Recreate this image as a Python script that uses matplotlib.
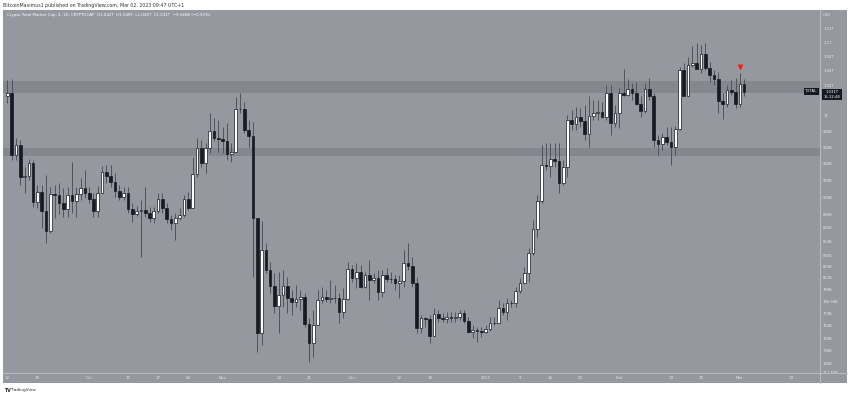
import matplotlib
matplotlib.use("Agg")
import matplotlib.pyplot as plt
import matplotlib.dates as mdates
from matplotlib.patches import Rectangle
from matplotlib.ticker import FixedLocator, FixedFormatter, NullLocator
import numpy as np
import pandas as pd

# daily candles, Crypto Total Market Cap in billions USD
start_date = "2022-09-12"
first_open = 1025.8
closes = [
    1029.4, 950.5, 962.8, 924.1, 925.0, 940.3, 894.6, 906.3, 884.3, 861.7,
    903.6, 902.0, 893.5, 885.9, 902.5, 895.4, 903.3, 910.3, 905.1, 897.4,
    884.3, 905.1, 930.1, 924.9, 918.1, 907.5, 900.5, 904.4, 886.3, 880.5,
    884.3, 885.1, 882.0, 875.6, 884.3, 897.4, 887.2, 874.5, 870.0, 875.6,
    879.4, 897.4, 887.2, 927.3, 958.7, 940.3, 958.7, 980.7, 971.1, 970.6,
    967.8, 951.3, 954.5, 1008.3, 1008.8, 981.6, 974.0, 875.6, 754.7, 840.5,
    819.0, 802.3, 781.7, 792.9, 802.3, 789.5, 786.1, 789.1, 790.5, 763.7,
    744.9, 762.7, 787.8, 790.6, 788.8, 790.0, 789.5, 776.0, 788.5, 819.7,
    810.3, 817.2, 801.6, 813.7, 808.5, 810.3, 795.7, 813.7, 809.6, 809.8,
    805.0, 807.5, 826.8, 823.6, 805.0, 759.5, 769.4, 768.6, 752.3, 773.4,
    769.4, 769.2, 770.4, 770.2, 771.0, 774.4, 767.0, 756.1, 757.8, 757.1,
    756.1, 758.5, 765.0, 765.2, 779.4, 776.0, 784.5, 784.7, 797.4, 805.7,
    815.5, 837.6, 863.3, 895.8, 938.2, 936.5, 945.2, 943.1, 916.9, 935.3,
    994.4, 988.9, 998.6, 993.1, 976.5, 999.5, 1003.1, 1005.2, 998.6, 1030.2,
    991.0, 1003.9, 1030.2, 1026.8, 1034.7, 1029.8, 1015.3, 1006.5, 1034.7, 1025.2,
    969.0, 964.0, 973.1, 966.9, 959.9, 982.5, 1060.9, 1026.1, 1067.6, 1070.0,
    1062.7, 1083.0, 1064.1, 1054.1, 1048.1, 1019.6, 1015.3, 1033.8, 1030.7, 1015.3,
    1042.0, 1031.0,
]
highs = [
    1047.2, 1048.1, 971.1, 969.0, 936.1, 945.2, 944.3, 914.2, 914.2, 926.1,
    912.2, 914.2, 916.2, 910.3, 912.2, 942.2, 912.2, 922.1, 932.1, 912.2,
    905.1, 913.0, 936.9, 938.2, 938.2, 928.1, 914.2, 911.4, 912.2, 892.8,
    889.7, 896.6, 912.2, 888.9, 888.9, 904.4, 904.4, 892.8, 879.4, 881.3,
    887.2, 902.5, 906.3, 948.4, 971.1, 969.0, 964.9, 1003.1, 996.6, 994.4,
    985.8, 990.2, 964.9, 1024.5, 1029.4, 1018.3, 994.4, 992.2, 875.6, 872.2,
    847.8, 827.9, 815.5, 817.2, 819.0, 812.0, 798.1, 803.3, 798.1, 794.7,
    769.4, 777.7, 798.1, 801.6, 798.1, 808.5, 803.3, 794.7, 799.8, 827.9,
    824.4, 826.1, 824.4, 817.2, 829.7, 815.5, 819.0, 819.0, 820.8, 817.2,
    813.7, 813.7, 840.5, 847.8, 833.3, 811.9, 772.7, 771.0, 772.7, 779.4,
    777.7, 774.4, 776.0, 776.0, 776.0, 777.7, 777.7, 771.0, 762.7, 761.1,
    761.1, 762.7, 771.0, 771.0, 787.8, 784.5, 789.5, 787.8, 801.6, 810.3,
    822.5, 842.3, 873.7, 902.5, 962.8, 964.9, 964.9, 964.9, 964.9, 944.3,
    1001.0, 1007.4, 1011.7, 1010.0, 1014.0, 1025.2, 1020.5, 1020.5, 1018.3, 1040.8,
    1040.8, 1014.0, 1036.1, 1062.0, 1048.1, 1042.8, 1045.0, 1025.2, 1042.8, 1049.5,
    1029.4, 975.2, 977.4, 985.9, 985.9, 987.2, 1065.5, 1070.0, 1079.2, 1094.3,
    1098.2, 1095.7, 1098.2, 1072.2, 1060.9, 1058.6, 1029.4, 1040.8, 1047.2, 1049.5,
    1056.4, 1048.0,
]
lows = [
    1016.2, 944.3, 944.3, 914.2, 904.4, 920.1, 888.9, 887.2, 864.4, 847.8,
    858.8, 876.0, 880.5, 877.5, 877.5, 881.3, 877.5, 896.6, 898.6, 892.8,
    877.5, 877.5, 904.4, 916.9, 912.2, 900.5, 896.6, 896.6, 881.3, 871.8,
    878.3, 833.3, 877.5, 871.8, 870.6, 881.3, 881.3, 869.9, 862.5, 851.4,
    873.7, 877.5, 885.1, 887.2, 924.1, 936.1, 928.1, 952.5, 967.8, 954.5,
    952.5, 944.3, 942.2, 956.6, 1003.1, 977.4, 960.7, 811.9, 736.9, 743.3,
    815.5, 794.7, 774.4, 754.7, 781.0, 774.4, 772.7, 781.0, 777.7, 761.1,
    727.4, 732.0, 762.7, 784.5, 786.1, 784.5, 784.5, 764.4, 769.4, 787.8,
    806.7, 799.8, 799.8, 799.8, 787.8, 805.0, 787.8, 791.2, 806.7, 805.0,
    798.1, 789.5, 801.6, 819.0, 801.6, 754.7, 754.7, 761.1, 744.9, 753.1,
    766.0, 766.0, 765.0, 766.0, 766.0, 767.7, 764.4, 754.7, 749.8, 746.5,
    751.4, 754.7, 756.5, 762.7, 764.4, 772.7, 767.7, 781.0, 781.0, 794.7,
    805.0, 806.7, 835.1, 855.0, 892.8, 932.1, 924.1, 936.1, 904.4, 914.2,
    924.1, 981.6, 981.6, 985.0, 969.0, 960.7, 994.4, 994.4, 996.6, 994.4,
    975.2, 985.9, 983.7, 1025.2, 1025.2, 1020.0, 1014.0, 998.6, 1003.1, 1020.5,
    960.7, 950.5, 956.6, 962.8, 938.2, 950.5, 981.6, 1025.2, 1025.2, 1065.5,
    1062.0, 1056.4, 1060.9, 1045.0, 1040.8, 1003.1, 995.3, 1011.7, 1027.2, 1009.6,
    1011.7, 1026.0,
]

# horizontal zones drawn by the author
zones = [(1029.4, 1046.2), (949.5, 958.7)]
signal_index = 170
signal_price = 1064.6

price_ticks = [1120, 1100, 1080, 1060, 1040, 1000, 980, 960, 940, 920, 900, 880,
               865, 850, 835, 823, 811, 799, 786.58, 774, 762, 750, 738, 726, 717.48]
price_labels = ["1.12T", "1.1T", "1.08T", "1.06T", "1.04T", "1T", "980B", "960B",
                "940B", "920B", "900B", "880B", "865B", "850B", "835B", "823B",
                "811B", "799B", "786.58B", "774B", "762B", "750B", "738B", "726B",
                "717.48B"]
time_ticks = ["2022-09-12", "2022-09-19", "2022-10-01", "2022-10-10", "2022-10-17",
              "2022-10-24", "2022-11-01", "2022-11-14", "2022-11-21", "2022-12-01",
              "2022-12-12", "2022-12-19", "2023-01-01", "2023-01-09", "2023-01-16",
              "2023-01-23", "2023-02-01", "2023-02-13", "2023-02-20", "2023-03-01",
              "2023-03-13"]
time_labels = ["12", "19", "Oct", "10", "17", "24", "Nov", "14", "21", "Dec", "12",
               "19", "2023", "9", "16", "23", "Feb", "13", "20", "Mar", "13"]

header = "BitcoinMaximus1 published on TradingView.com, Mar 02, 2023 09:47 UTC+1"
legend_name = "Crypto Total Market Cap, $, 1D, CRYPTOCAP"
legend_ohlc = "O1.042T  H1.048T  L1.026T  C1.031T  \u22129.546B (\u22120.90%)"

BG = "#95989f"
ZONE = "#84878e"
AXLINE = "#b7bac0"
TXT = "#e4e6ea"
DARK = "#161a23"
WICK = "#50535b"

W, H = 850, 396
fig = plt.figure(figsize=(W / 100, H / 100), dpi=100)
fig.patch.set_facecolor("white")


def fx(px):
    return px / W


def fy(py):
    return 1 - py / H


# gray panel behind everything
panel = Rectangle((fx(3), fy(383)), fx(844), 373 / H, transform=fig.transFigure,
                  facecolor=BG, edgecolor="none", zorder=-10)
fig.patches.append(panel)

ax = fig.add_axes([fx(3), fy(373), fx(817), 363 / H])
ax.set_facecolor(BG)
for s in ax.spines.values():
    s.set_visible(False)

dates = pd.date_range(start_date, periods=len(closes), freq="D")
xs = mdates.date2num(dates)
closes = np.array(closes)
opens = np.concatenate([[first_open], closes[:-1]])
highs = np.maximum(np.array(highs), np.maximum(opens, closes))
lows = np.minimum(np.array(lows), np.minimum(opens, closes))

for lo, hi in zones:
    ax.axhspan(lo, hi, color=ZONE, lw=0, zorder=1)

ax.vlines(xs, lows, highs, color=WICK, lw=0.7, zorder=2)
up = closes >= opens
body_w = 0.62
ax.bar(xs[up], closes[up] - opens[up], bottom=opens[up], width=body_w,
       color="white", edgecolor=DARK, lw=0.5, zorder=3)
ax.bar(xs[~up], closes[~up] - opens[~up], bottom=opens[~up], width=body_w,
       color=DARK, edgecolor=DARK, lw=0.5, zorder=3)

ax.plot(xs[signal_index], signal_price, marker="v", color="#e8211e", ms=4.5,
        mec="none", zorder=4)

ax.set_yscale("log")
ax.set_ylim(716.9, 1146.5)
x0 = xs[0]
ax.set_xlim(x0 - 1.0, x0 + 188.6)

ax.yaxis.tick_right()
ax.yaxis.set_major_locator(FixedLocator(price_ticks))
ax.yaxis.set_major_formatter(FixedFormatter(price_labels))
ax.yaxis.set_minor_locator(NullLocator())
ax.tick_params(axis="y", length=0, pad=2.2, labelsize=2.7, labelcolor=TXT)

ax.set_xticks(mdates.date2num(pd.to_datetime(time_ticks)))
ax.set_xticklabels(time_labels)
ax.xaxis.set_minor_locator(NullLocator())
ax.tick_params(axis="x", length=0, pad=2.0, labelsize=2.9, labelcolor=TXT)

# axis separators
fig.add_artist(plt.Line2D([fx(820), fx(820)], [fy(10), fy(383)], color=AXLINE, lw=0.8))
fig.add_artist(plt.Line2D([fx(3), fx(847)], [fy(373), fy(373)], color=AXLINE, lw=0.8))

# texts
fig.text(fx(3), fy(5), header, fontsize=3.4, color="#333333", va="center")
fig.text(fx(7), fy(15), legend_name, fontsize=2.9, color="white", va="center")
fig.text(fx(97), fy(15), legend_ohlc, fontsize=2.9, color="white", va="center")
fig.text(fx(823), fy(15), "USD", fontsize=2.7, color=TXT, va="center")

# last price boxes
fig.text(fx(811.5), fy(91.5), "TOTAL", fontsize=2.7, color="white", ha="center",
         va="center", zorder=5,
         bbox=dict(boxstyle="square,pad=0.35", fc=DARK, ec="none"))
fig.text(fx(832), fy(94.5), "1.031T\n15:12:48", fontsize=2.7, color="white", ha="center",
         va="center", linespacing=1.2, zorder=5,
         bbox=dict(boxstyle="square,pad=0.45", fc=DARK, ec="none"))

fig.text(fx(4), fy(390), "TV", fontsize=3.4, color="#1e222d", weight="bold", va="center")
fig.text(fx(11), fy(390), "TradingView", fontsize=3.1, color="#333333", va="center")

fig.savefig("out.png", dpi=100, facecolor="white")
